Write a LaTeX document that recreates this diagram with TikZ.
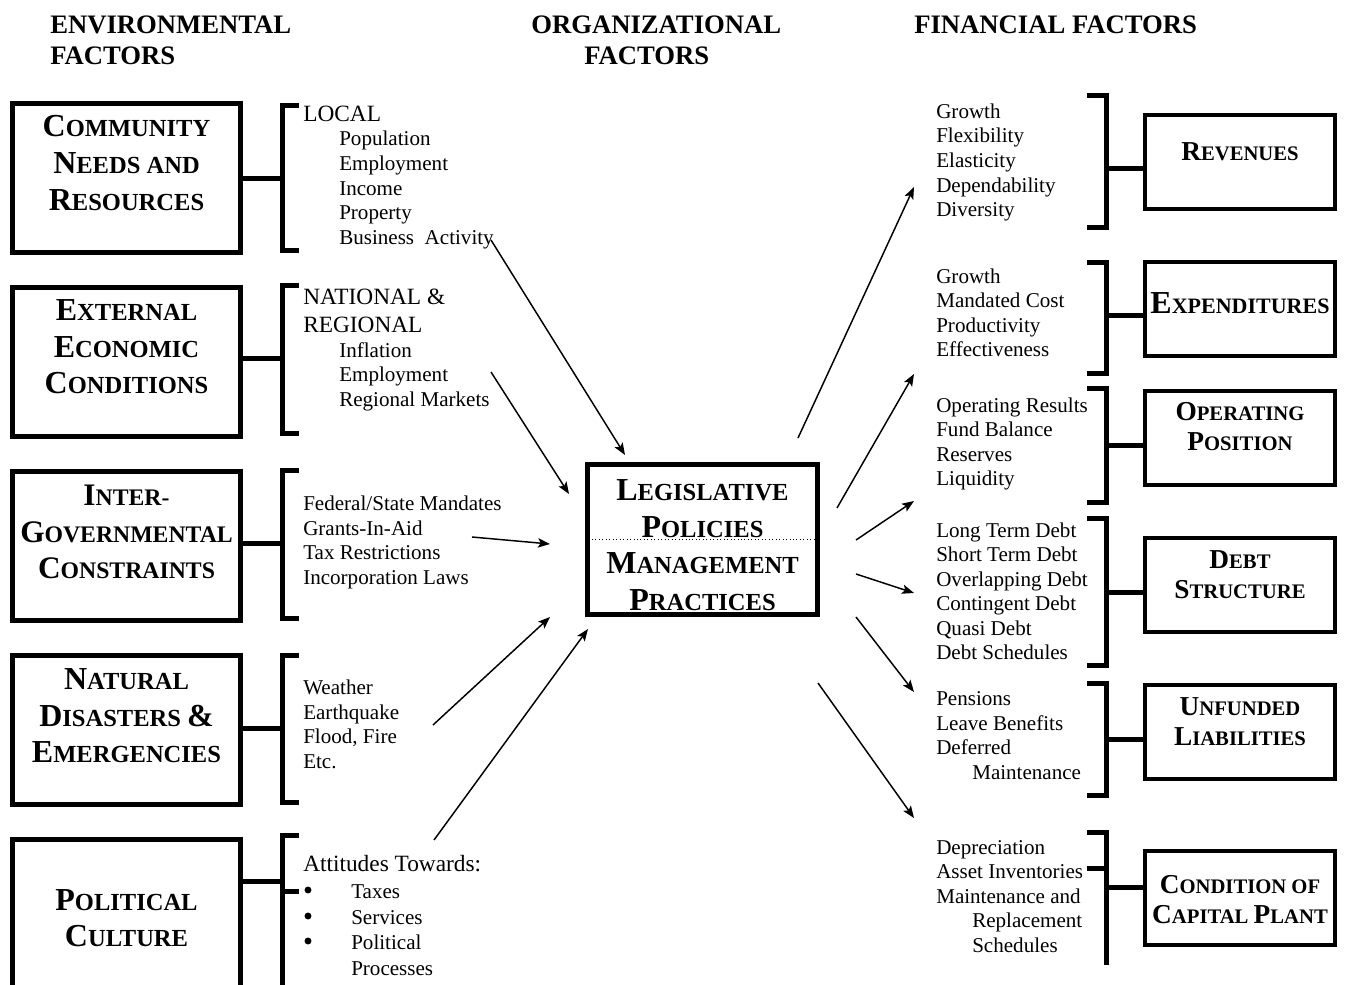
\documentclass[tikz,border=0pt]{standalone}
\usepackage{fontspec}
\setmainfont{Liberation Serif}
\usetikzlibrary{arrows.meta}
\newcommand\smc[2]{{\fontsize{24}{27.4}\selectfont #1}{\fontsize{18.4}{27.4}\selectfont #2}}
\newcommand\smcn[2]{{\fontsize{23.5}{27.4}\selectfont #1}{\fontsize{17.8}{27.4}\selectfont #2}}
\newcommand\rsc[2]{{\fontsize{20.5}{22.5}\selectfont #1}{\fontsize{15.5}{22.5}\selectfont #2}}
\begin{document}
\begin{tikzpicture}[x=0.75pt,y=-0.75pt,
  lbox/.style={draw, line width=3.75pt, minimum width=171pt, minimum height=111.75pt, inner sep=0pt},
  rbox/.style={draw, line width=3pt, minimum width=142.5pt, minimum height=70.5pt, inner sep=0pt},
  cbox/.style={draw, line width=3.75pt, minimum width=172.5pt, minimum height=112.5pt, inner sep=0pt},
  btext/.style={align=center, inner sep=0pt, font=\fontsize{18}{27.4}\selectfont\bfseries},
  rtext/.style={align=center, inner sep=0pt, font=\fontsize{15.5}{22.5}\selectfont\bfseries},
  brk/.style={line width=3.75pt, line join=miter},
  conn/.style={line width=3.75pt},
  arr/.style={line width=1.1pt, -{Stealth[length=9pt,width=7pt,inset=2pt]}},
  item/.style={anchor=west, inner sep=0pt, text height=10.4pt, text depth=0pt, font=\fontsize{15.8}{18}\selectfont},
  big/.style={item, text height=11.6pt, font=\fontsize{17.5}{20}\selectfont},
  bul/.style={circle, fill, inner sep=0pt, minimum size=5.2pt},
  title/.style={anchor=west, inner sep=0pt, text height=13.2pt, text depth=0pt, font=\fontsize{20}{24}\selectfont\bfseries}
]
\useasboundingbox (0,0) rectangle (1347,985);

% ---------- titles
\node[title] (t1a) at (50,25) {ENVIRONMENTAL};
\node[title] (t1b) at (50,56) {FACTORS};
\node[title] (t2a) at (531,25) {ORGANIZATIONAL};
\node[title] (t2b) at (584,56) {FACTORS};
\node[title] (t3a) at (914,25) {FINANCIAL FACTORS};

% ---------- left boxes
\node[lbox] (env1) at (126.5,178) {};
\node[lbox] (env2) at (126.5,361.5) {};
\node[lbox] (env3) at (126.5,545.5) {};
\node[lbox] (env4) at (126.5,729.5) {};
\node[lbox, minimum height=150pt] (env5) at (126.5,939.5) {};

\node[btext] (env1t) at (126.5,163) {\smc{C}{OMMUNITY}\\\smc{N}{EEDS AND}\\\smc{R}{ESOURCES}};
\node[btext] (env2t) at (126.5,347) {\smc{E}{XTERNAL}\\\smc{E}{CONOMIC}\\\smc{C}{ONDITIONS}};
\node[btext] (env3t) at (126.5,532) {\smcn{I}{NTER-}\\\smcn{G}{OVERNMENTAL}\\\smcn{C}{ONSTRAINTS}};
\node[btext] (env4t) at (126.5,716) {\smc{N}{ATURAL}\\\smc{D}{ISASTERS} \smc{\&}{}\\\smc{E}{MERGENCIES}};
\node[btext] (env5t) at (126.5,918) {\smc{P}{OLITICAL}\\\smc{C}{ULTURE}};

% ---------- left brackets
\coordinate (c1) at (282,178);
\coordinate (c2) at (282,358);
\coordinate (c3) at (282,543);
\coordinate (c4) at (282,728);
\coordinate (c5) at (282,881);
\draw[conn] (env1.east |- c1) -- (c1);
\draw[conn] (env2.east |- c2) -- (c2);
\draw[conn] (env3.east |- c3) -- (c3);
\draw[conn] (env4.east |- c4) -- (c4);
\draw[conn] (env5.east |- c5) -- (c5);
\draw[brk] (299,105) -- (282,105) -- (282,250) -- (299,250);
\draw[brk] (299,285) -- (282,285) -- (282,433) -- (299,433);
\draw[brk] (299,470) -- (282,470) -- (282,618) -- (299,618);
\draw[brk] (299,655) -- (282,655) -- (282,802) -- (299,802);
\draw[brk] (299,835) -- (282,835) -- (282,995);
\draw[brk] (282,891) -- (299,891);

% ---------- left lists
\node[big] (loc0) at (303,114) {LOCAL};
\foreach \y/\t [count=\i] in {139/Population,164/Employment,189/Income,213/Property,238/{Business~ Activity}}
  \node[item] (loc\i) at (339,\y) {\t};
\node[big] (nat1) at (303,297) {NATIONAL \&};
\node[big] (nat2) at (303,325) {REGIONAL};
\foreach \y/\t [count=\i] in {351/Inflation,375/Employment,400/{Regional Markets}}
  \node[item] (natl\i) at (339,\y) {\t};
\node[item] (igc1) at (303,504) {Federal/State Mandates};
\node[item] (igc2) at (303,529) {Grants-In-Aid};
\node[item] (igc3) at (303,553) {Tax Restrictions};
\node[item] (igc4) at (303,578) {Incorporation Laws};
\node[item] (nd1) at (303,688) {Weather};
\node[item] (nd2) at (303,713) {Earthquake};
\node[item] (nd3) at (303,737) {Flood, Fire};
\node[item] (nd4) at (303,762) {Etc.};
\node[big] (pc0) at (303,864) {Attitudes Towards:};
\node[bul] (pcb1) at (308,890) {};
\node[bul] (pcb2) at (308,916) {};
\node[bul] (pcb3) at (308,941) {};
\node[item] (pc1) at (351,892) {Taxes};
\node[item] (pc2) at (351,918) {Services};
\node[item] (pc3) at (351,943) {Political};
\node[item] (pc4) at (351,969) {Processes};

% ---------- center box
\node[cbox] (cb) at (702.5,539.5) {};
\draw[dotted, line width=0.6pt] (cb.west) -- (cb.east);
\node[btext] (cbt) at (702.5,545) {\smc{L}{EGISLATIVE}\\\smc{P}{OLICIES}\\\smc{M}{ANAGEMENT}\\\smc{P}{RACTICES}};

% ---------- right boxes
\node[rbox] (rev) at (1240,161.5) {};
\node[rbox] (exp) at (1240,308.5) {};
\node[rbox] (opp) at (1240,438) {};
\node[rbox] (dbt) at (1240,585) {};
\node[rbox] (unf) at (1240,731.5) {};
\node[rbox] (cap) at (1240,898) {};
\node[rtext] (revt) at (1240,152) {\rsc{R}{EVENUES}};
\node[rtext] (expt) at (1240,303) {{\fontsize{24}{22.5}\selectfont E}{\fontsize{16.5}{22.5}\selectfont XPENDITURES}};
\node[rtext] (oppt) at (1240,427) {\rsc{O}{PERATING}\\\rsc{P}{OSITION}};
\node[rtext] (dbtt) at (1240,575) {\rsc{D}{EBT}\\\rsc{S}{TRUCTURE}};
\node[rtext] (unft) at (1240,721.5) {\rsc{U}{NFUNDED}\\\rsc{L}{IABILITIES}};
\node[rtext] (capt) at (1240,900) {\rsc{C}{ONDITION OF}\\\rsc{C}{APITAL} \rsc{P}{LANT}};

% ---------- right brackets
\coordinate (r1) at (1106,168);
\coordinate (r2) at (1106,315);
\coordinate (r3) at (1106,445);
\coordinate (r4) at (1106,592);
\coordinate (r5) at (1106,739);
\coordinate (r6) at (1106,887);
\draw[conn] (r1) -- (r1 -| rev.west);
\draw[conn] (r2) -- (r2 -| exp.west);
\draw[conn] (r3) -- (r3 -| opp.west);
\draw[conn] (r4) -- (r4 -| dbt.west);
\draw[conn] (r5) -- (r5 -| unf.west);
\draw[conn] (r6) -- (r6 -| cap.west);
\draw[brk] (1087,95) -- (1106,95) -- (1106,227) -- (1087,227);
\draw[brk] (1087,262) -- (1106,262) -- (1106,373) -- (1087,373);
\draw[brk] (1087,388) -- (1106,388) -- (1106,502) -- (1087,502);
\draw[brk] (1087,518) -- (1106,518) -- (1106,665) -- (1087,665);
\draw[brk] (1087,683) -- (1106,683) -- (1106,795) -- (1087,795);
\draw[brk] (1087,832) -- (1106,832) -- (1106,965);
\draw[brk] (1087,868) -- (1106,868);

% ---------- right lists
\foreach \y/\t [count=\i] in {112/Growth,136/Flexibility,161/Elasticity,186/Dependability,210/Diversity}
  \node[item] (rl\i) at (936,\y) {\t};
\foreach \y/\t [count=\i] in {277/Growth,301/{Mandated Cost},326/Productivity,350/Effectiveness}
  \node[item] (el\i) at (936,\y) {\t};
\foreach \y/\t [count=\i] in {406/{Operating Results},430/{Fund Balance},455/Reserves,479/Liquidity}
  \node[item] (ol\i) at (936,\y) {\t};
\foreach \y/\t [count=\i] in {531/{Long Term Debt},555/{Short Term Debt},580/{Overlapping Debt},604/{Contingent Debt},629/{Quasi Debt},653/{Debt Schedules}}
  \node[item] (dl\i) at (936,\y) {\t};
\foreach \y/\t [count=\i] in {699/Pensions,724/{Leave Benefits},748/Deferred}
  \node[item] (ul\i) at (936,\y) {\t};
\node[item] (ul4) at (972,773) {Maintenance};
\foreach \y/\t [count=\i] in {848/Depreciation,872/{Asset Inventories},897/{Maintenance and}}
  \node[item] (cl\i) at (936,\y) {\t};
\node[item] (cl4) at (972,921) {Replacement};
\node[item] (cl5) at (972,946) {Schedules};

% ---------- arrows in
\coordinate (a1s) at (491,240);  \coordinate (a1e) at (625,455);
\coordinate (a2s) at (491,372);  \coordinate (a2e) at (569,494);
\coordinate (a3s) at (472,537);  \coordinate (a3e) at (550,544);
\coordinate (a4s) at (433,725);  \coordinate (a4e) at (550,617);
\coordinate (a5s) at (434,840);  \coordinate (a5e) at (588,629);
\draw[arr] (a1s) -- (a1e);
\draw[arr] (a2s) -- (a2e);
\draw[arr] (a3s) -- (a3e);
\draw[arr] (a4s) -- (a4e);
\draw[arr] (a5s) -- (a5e);

% ---------- arrows out
\coordinate (b1s) at (798,438);  \coordinate (b1e) at (914,187);
\coordinate (b2s) at (837,508);  \coordinate (b2e) at (914,374);
\coordinate (b3s) at (856,540);  \coordinate (b3e) at (914,501);
\coordinate (b4s) at (856,574);  \coordinate (b4e) at (914,593);
\coordinate (b5s) at (856,617);  \coordinate (b5e) at (914,692);
\coordinate (b6s) at (818,683);  \coordinate (b6e) at (914,818);
\draw[arr] (b1s) -- (b1e);
\draw[arr] (b2s) -- (b2e);
\draw[arr] (b3s) -- (b3e);
\draw[arr] (b4s) -- (b4e);
\draw[arr] (b5s) -- (b5e);
\draw[arr] (b6s) -- (b6e);
\end{tikzpicture}
\end{document}
